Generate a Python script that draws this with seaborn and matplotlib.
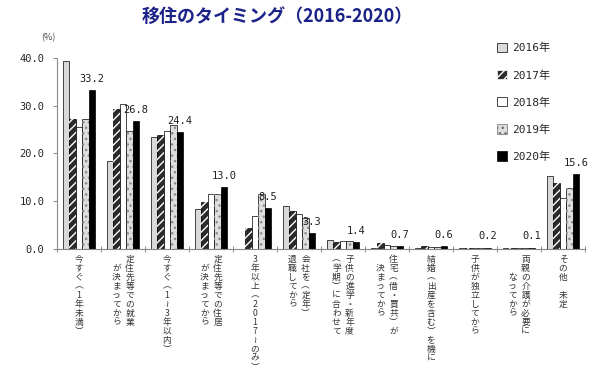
import numpy as np
import pandas as pd
import matplotlib
matplotlib.use("Agg")
import matplotlib.pyplot as plt
import seaborn as sns
from matplotlib.font_manager import FontProperties
from matplotlib.patches import Rectangle

sns.set_theme(style="white")
plt.rcParams['font.family'] = ['Noto Sans CJK JP', 'DejaVu Sans']
plt.rcParams['hatch.linewidth'] = 1.0

# x軸ラベル (縦書き, 右の列から)
label_cols = [
    ["今すぐ（1年未満）"],
    ["定住先等での就業", "　が決まってから"],
    ["今すぐ（1～3年以内）"],
    ["定住先等での住居", "　が決まってから"],
    ["3年以上（2017～のみ）"],
    ["会社を（定年）", "退職してから"],
    ["子供の進学・新年度", "（学期）に合わせて"],
    ["住宅（借・買共）が", "　決まってから"],
    ["結婚（出産を含む）を機に"],
    ["子供が独立してから"],
    ["両親の介護が必要に", "　　なってから"],
    ["その他 未定"],
]
categories = ["".join(c).replace("　", "") for c in label_cols]
years = ["2016年", "2017年", "2018年", "2019年", "2020年"]

v2016 = [39.4, 18.4, 23.5, 8.4, np.nan, 8.9, 1.9, 0.1, 0.15, 0.2, 0.1, 15.2]
v2017 = [27.3, 29.2, 23.8, 9.9, 4.4, 8.0, 1.5, 1.2, 0.6, 0.2, 0.1, 13.9]
v2018 = [25.6, 30.4, 24.7, 11.5, 6.8, 7.3, 1.6, 0.8, 0.35, 0.2, 0.1, 10.6]
v2019 = [27.2, 24.7, 26.0, 11.5, 11.5, 6.4, 1.6, 0.6, 0.35, 0.2, 0.1, 12.7]
v2020 = [33.2, 26.8, 24.4, 13.0, 8.5, 3.3, 1.4, 0.7, 0.6, 0.2, 0.1, 15.6]

rows = []
for y, vals in zip(years, [v2016, v2017, v2018, v2019, v2020]):
    for c, v in zip(categories, vals):
        rows.append({"cat": c, "year": y, "val": v})
df = pd.DataFrame(rows).dropna()

colors = ["#d9d9d9", "#2b2b2b", "#ffffff", "#dedede", "#000000"]

fig = plt.figure(figsize=(6, 3.71), dpi=100)
ax = fig.add_axes([0.095, 0.329, 0.88, 0.515])

sns.barplot(data=df, x="cat", y="val", hue="year", order=categories, hue_order=years,
            palette=colors, saturation=1, width=0.73, edgecolor="black", linewidth=0.5,
            errorbar=None, legend=False, ax=ax)

# 2017: 白い斜線, 2019: 灰色の点模様
for p in ax.containers[1]:
    ax.add_patch(Rectangle(p.get_xy(), p.get_width(), p.get_height(), facecolor="none",
                           edgecolor="white", hatch="////", linewidth=0))
for p in ax.containers[3]:
    ax.add_patch(Rectangle(p.get_xy(), p.get_width(), p.get_height(), facecolor="none",
                           edgecolor="#8a8a8a", hatch="...", linewidth=0))

mono = FontProperties(family=['DejaVu Sans Mono', 'Noto Sans CJK JP'], size=7.5)

# 2020年の値ラベル
for p in ax.containers[4]:
    v = p.get_height()
    ax.text(p.get_x() + p.get_width() / 2, max(v, 0.4) + 2.3, f"{v:.1f}",
            ha="center", va="center", fontproperties=mono, color="#222")

ax.set_xlim(-0.5, 11.5)
ax.set_ylim(0, 40)
ax.set_yticks([0, 10, 20, 30, 40])
ax.set_yticklabels([f"{t:.1f}" for t in [0, 10, 20, 30, 40]], fontproperties=mono)
ax.set_xticks(np.arange(-0.5, 12, 1))
ax.set_xticklabels([])
ax.tick_params(axis="x", direction="inout", length=4, width=0.7, color="#888", bottom=True)
ax.tick_params(axis="y", direction="out", length=3, width=0.7, color="#888", left=True, pad=6)
ax.set_xlabel("")
ax.set_ylabel("")
for s in ["top", "right"]:
    ax.spines[s].set_visible(False)
for s in ["left", "bottom"]:
    ax.spines[s].set_color("#888")
    ax.spines[s].set_linewidth(0.8)

def vert(s):
    s = s.replace("（", "︵").replace("）", "︶").replace("～", "≀")
    return "\n".join(list(s))

for i, cols in enumerate(label_cols):
    offs = [0] if len(cols) == 1 else [0.15, -0.15]
    for off, col in zip(offs, cols):
        ax.text(i + off, -0.03, vert(col), transform=ax.get_xaxis_transform(),
                ha="center", va="top", fontsize=6.3, linespacing=1.0, color="#333")

leg = ax.legend(ax.containers, years, loc="upper left", bbox_to_anchor=(0.828, 0.884),
                bbox_transform=fig.transFigure, frameon=False,
                prop=FontProperties(family=['DejaVu Sans Mono', 'Noto Sans CJK JP'], size=8),
                handlelength=0.9, handleheight=0.9, handletextpad=0.5, labelspacing=1.5,
                borderpad=0, borderaxespad=0)
leg.legend_handles[1].set_edgecolor("white")
leg.legend_handles[1].set_hatch("////")
leg.legend_handles[3].set_edgecolor("#707070")
leg.legend_handles[3].set_hatch("...")

fig.text(0.462, 0.955, "移住のタイミング（2016-2020）", ha="center", va="center",
         fontsize=13, fontweight="bold", color="#1c2388")
fig.text(0.093, 0.898, "(%)", ha="right", va="center", fontsize=6.5, color="#444")

fig.savefig("out.png", dpi=100)
